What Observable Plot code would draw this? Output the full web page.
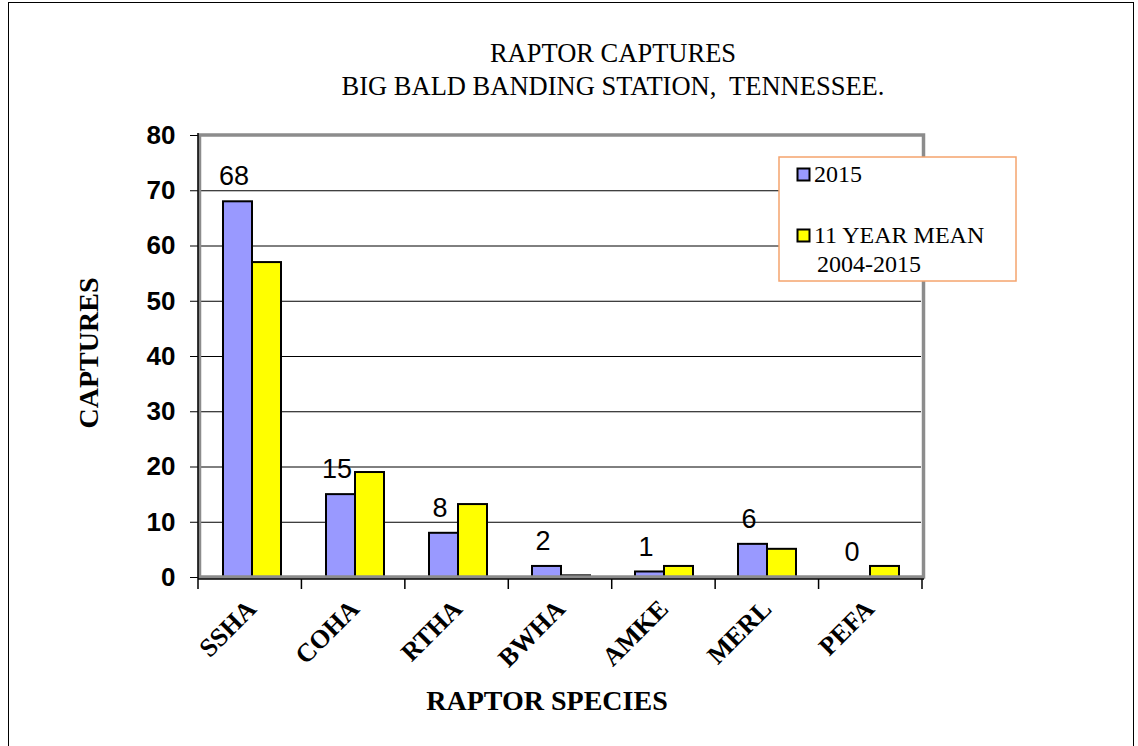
<!DOCTYPE html>
<html><head><meta charset="utf-8">
<script src="https://cdn.jsdelivr.net/npm/d3@7"></script>
<script src="https://cdn.jsdelivr.net/npm/@observablehq/plot@0.6"></script>
<style>
body{margin:0;background:#fff;}
#wrap{position:relative;width:1138px;height:746px;overflow:hidden;background:#fff;}
#border{position:absolute;left:8px;top:2px;width:1126px;height:800px;border:1px solid #000;box-sizing:border-box;pointer-events:none;}
#chart{position:absolute;left:0;top:0;}
[aria-label^="fx-axis"] text{font-family:'Liberation Serif','Times New Roman',serif !important;font-weight:bold !important;font-size:26px !important;fill:#000;}
[aria-label^="y-axis"] text{font-family:'Liberation Sans',Arial,sans-serif !important;font-weight:bold !important;font-size:26px !important;fill:#000;}
</style></head><body><div id="wrap"><div id="chart"></div><div id="border"></div></div>
<script>
const species = ["SSHA","COHA","RTHA","BWHA","AMKE","MERL","PEFA"];
const seriesNames = ["2015","11 YEAR MEAN 2004-2015"];
const captures2015 = [68,15,8,2,1,6,0];
const mean11yr = [57,19,13.2,0.3,2,5.1,2];
const yTicks = [0,10,20,30,40,50,60,70,80];
const gridValues = [10,20,30,40,50,60,70];
const barColors = ["#9999ff","#ffff00"];
const titleLines = ["RAPTOR CAPTURES","BIG BALD BANDING STATION,  TENNESSEE."];
const legendLines = [["2015"],["11 YEAR MEAN","2004-2015"]];

const data = species.flatMap((s,i)=>[
  {species:s, series:seriesNames[0], value:captures2015[i]},
  {species:s, series:seriesNames[1], value:mean11yr[i]}
]);
const labelData = species.map((s,i)=>({species:s, series:seriesNames[0], value:captures2015[i]}));

const W=1138,H=746;
const chart = Plot.plot({
  width: W, height: H,
  marginTop: 135, marginLeft: 198, marginRight: 216, marginBottom: 169,
  style: {background:"transparent", fontFamily:"'Liberation Sans', Arial, sans-serif", overflow:"visible"},
  fx: {domain: species, padding: 0, label: null, axis: "bottom", tickRotate: -45, tickSize: 0, tickPadding: 27},
  x: {domain: seriesNames, paddingInner: 0, paddingOuter: 0.75, axis: null},
  y: {domain: [0,80], ticks: yTicks, tickSize: 10, tickPadding: 15, label: null},
  color: {domain: seriesNames, range: barColors},
  marks: [
    Plot.ruleY(gridValues, {stroke:"#000", strokeWidth:1}),
    Plot.barY(data, {fx:"species", x:"series", y:"value", fill:"series", stroke:"#000", strokeWidth:2}),
    Plot.text(labelData, {fx:"species", x:"series", y:"value", text:d=>String(d.value), dy:-25, dx:-4, fontSize:27, fill:"#000", fontFamily:"'Liberation Sans', Arial, sans-serif"})
  ]
});
document.getElementById("chart").appendChild(chart);

const svg = d3.select(chart);
const fxS = chart.scale("fx");
const yS = chart.scale("y");
const fx = d3.scaleBand(fxS.domain, fxS.range).padding(0);
const y = d3.scaleLinear(yS.domain, yS.range);
const x0 = fxS.range[0], x1 = fxS.range[1];
const yb = y(0), yt = y(80);

// gray plot-area frame
svg.append("rect").attr("x", x0+1.5).attr("y", yt).attr("width", x1-x0).attr("height", yb-yt)
  .attr("fill","none").attr("stroke","#8c8c8c").attr("stroke-width",3.5);
// black axis lines
svg.append("line").attr("x1",x0).attr("x2",x0).attr("y1",yt-2).attr("y2",yb+2).attr("stroke","#000").attr("stroke-width",1.5);
svg.append("line").attr("x1",x0).attr("x2",x1+2).attr("y1",yb+2).attr("y2",yb+2).attr("stroke","#000").attr("stroke-width",1.5);
// category boundary ticks
const bounds = species.map(s=>fx(s)).concat([fx(species[species.length-1])+fx.bandwidth()]);
svg.append("g").selectAll("line").data(bounds).join("line")
  .attr("x1",d=>d).attr("x2",d=>d).attr("y1",yb+2).attr("y2",yb+12).attr("stroke","#000").attr("stroke-width",1.5);

// titles
const serif = "'Liberation Serif','Times New Roman',serif";
svg.append("g").selectAll("text").data(titleLines).join("text")
  .attr("x",613).attr("y",(d,i)=>56+i*33).attr("text-anchor","middle").attr("dominant-baseline","middle")
  .attr("font-family",serif).attr("font-size",26.5).attr("fill","#000").style("white-space","pre")
  .text(d=>d);

// axis titles
svg.append("text").attr("transform","translate(92,353) rotate(-90)").attr("text-anchor","middle").attr("dominant-baseline","middle")
  .attr("font-family",serif).attr("font-weight","bold").attr("font-size",28).attr("fill","#000").text("CAPTURES");
svg.append("text").attr("x",547).attr("y",704).attr("text-anchor","middle").attr("dominant-baseline","middle")
  .attr("font-family",serif).attr("font-weight","bold").attr("font-size",28).attr("fill","#000").text("RAPTOR SPECIES");

// legend
const lg = svg.append("g");
lg.append("rect").attr("x",779).attr("y",157).attr("width",237).attr("height",124)
  .attr("fill","#fff").attr("stroke","#f5a46e").attr("stroke-width",1.5);
legendLines.forEach((lines,i)=>{
  const by = [182,243][i];
  lg.append("rect").attr("x",797.5).attr("y",by-13.5).attr("width",12).attr("height",12)
    .attr("fill",barColors[i]).attr("stroke","#000").attr("stroke-width",2);
  lines.forEach((t,j)=>{
    lg.append("text").attr("x",j===0?814:817).attr("y",by+j*29).attr("text-anchor","start")
      .attr("font-family",serif).attr("font-size",24).attr("fill","#000").text(t);
  });
});
</script></body></html>
